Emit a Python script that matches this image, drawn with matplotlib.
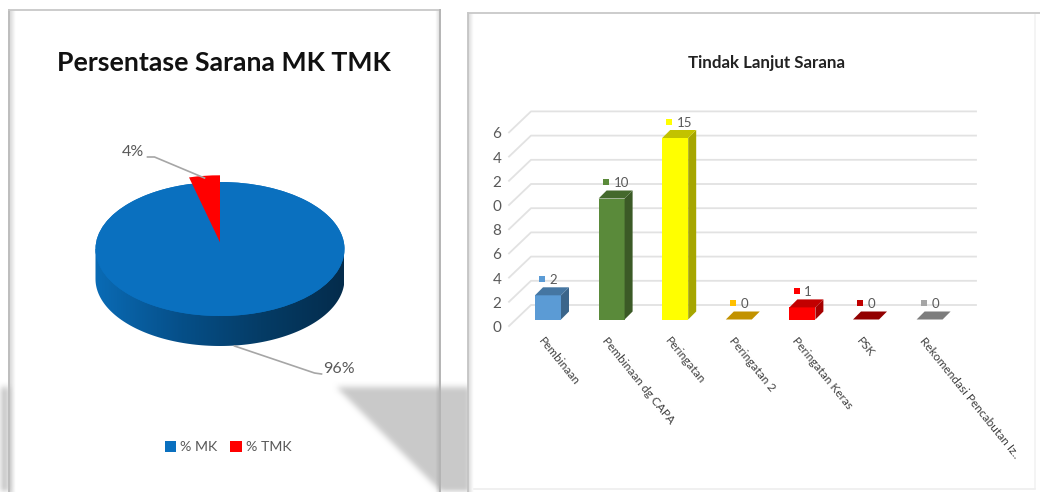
"""Persentase Sarana MK TMK and Tindak Lanjut Sarana"""
import numpy as np
import matplotlib.pyplot as plt
from matplotlib.colors import to_rgb, LinearSegmentedColormap
from matplotlib.patches import Ellipse, PathPatch, Polygon, Rectangle
from matplotlib.path import Path

W, H = 1040, 492

pie_title = "Persentase Sarana MK TMK"
pie_labels = ["% MK", "% TMK"]
pie_values = [96, 4]
pie_texts = ["96%", "4%"]
pie_colors = ["#0a70bf", "#ff0000"]

bar_title = "Tindak Lanjut Sarana"
categories = ["Pembinaan", "Pembinaan dg CAPA", "Peringatan", "Peringatan 2",
              "Peringatan Keras", "PSK", "Rekomendasi Pencabutan Iz.."]
bar_values = [2, 10, 15, 0, 1, 0, 0]
bar_colors = ["#5b9bd5", "#5a8a3a", "#ffff00", "#ffc000", "#ff0000", "#c00000", "#a5a5a5"]
grid_values = [0, 2, 4, 6, 8, 10, 12, 14, 16]
tick_labels = ["0", "2", "4", "6", "8", "0", "2", "4", "6"]

plt.rcParams['font.family'] = ['Lato', 'DejaVu Sans']
GREY = "#595959"


def px_axes(fig, left, top, right, bottom):
    """Axes placed by pixel edges, y measured from the top"""
    return fig.add_axes([left / W, 1 - bottom / H, (right - left) / W, (bottom - top) / H])


def shade(color, factor):
    return tuple(c * factor for c in to_rgb(color))


def soft_shadow():
    """Grey page strips and the triangle cast on the left card, blurred"""
    yy, xx = np.mgrid[0:H, 0:W]
    mask = (yy > 386) & (xx < 9)
    mask |= (yy > 386) & (xx > 335) & (xx < 470) & (yy - 386 < xx - 335)
    soft = mask.astype(float)
    kernel = np.ones(7) / 7
    for _ in range(2):
        soft = np.apply_along_axis(lambda r: np.convolve(r, kernel, mode='same'), 0, soft)
        soft = np.apply_along_axis(lambda r: np.convolve(r, kernel, mode='same'), 1, soft)
    rgba = np.ones((H, W, 4)) * 0.79
    rgba[..., 3] = soft
    return rgba


def inner_band(ax, x0, x1, y0, y1, reverse=False):
    """Soft grey fade just inside a card edge"""
    ramp = np.linspace(0.28, 0, 8).reshape(1, -1)
    if reverse:
        ramp = ramp[:, ::-1]
    rgba = np.zeros((1, 8, 4))
    rgba[..., :3] = 0.5
    rgba[..., 3] = ramp
    ax.imshow(rgba, extent=(x0, x1, y1, y0), aspect='auto', zorder=5, interpolation='bilinear')


def background(fig):
    """Cards, grey page behind them and the cast shadow"""
    ax = fig.add_axes([0, 0, 1, 1], zorder=0)
    ax.axis('off')
    ax.imshow(soft_shadow(), extent=(0, W, H, 0), aspect='auto', zorder=3)
    # right card hides the shadow past its edge
    ax.add_patch(Rectangle((468, 12.5), 600, 500, fc='white', ec='none', zorder=4))
    inner_band(ax, 9.5, 15, 10, H)
    inner_band(ax, 435, 440, 10, H, reverse=True)
    inner_band(ax, 468, 474, 13, H)
    ax.plot([9, 9], [10, H], color='#bdbdbd', lw=1.4, zorder=6)
    ax.plot([9, 440], [10, 10], color='#c8c8c8', lw=1.3, zorder=6)
    ax.plot([440, 440], [10, H], color='#b4b4b4', lw=1.4, zorder=6)
    ax.plot([468, 468], [13, H], color='#c4c4c4', lw=1.3, zorder=6)
    ax.plot([468, W], [12.5, 12.5], color='#c8c8c8', lw=1.3, zorder=6)
    ax.plot([1035, 1035], [15, 488], color='#f2f2f2', lw=1.2, zorder=6)
    ax.plot([474, 1035], [489, 489], color='#eeeeee', lw=1.2, zorder=6)
    ax.set_xlim(0, W)
    ax.set_ylim(H, 0)
    ax.text(224, 63, pie_title, ha='center', va='center', fontsize=19.2,
            fontweight='bold', color='#111111', zorder=7)
    ax.text(767, 63, bar_title, ha='center', va='center', fontsize=12.2,
            fontweight='bold', color='#222222', zorder=7)


def draw_pie(fig):
    """Flattened pie with a shaded rim, 125 x 67 px"""
    ax = px_axes(fig, 60, 130, 380, 400)
    ax.patch.set_alpha(0)
    rx, ry = 124.5, 67
    depth = 30 / ry
    # rim with a left to right gradient
    t = np.linspace(np.pi, 2 * np.pi, 120)
    verts = list(zip(np.cos(t), np.sin(t) - depth)) + [(1, 0), (-1, 0), (-1, -depth)]
    rim = PathPatch(Path(verts), fc='none', ec='none')
    ax.add_patch(rim)
    shadecmap = LinearSegmentedColormap.from_list("rim", ["#0a6bb5", "#06508a", "#053c66", "#042c4c"])
    img = ax.imshow(np.linspace(0, 1, 200).reshape(1, -1), cmap=shadecmap, aspect='auto',
                    extent=(-1, 1, -1 - depth, 0), zorder=1)
    img.set_clip_path(rim)
    ax.add_patch(Ellipse((0, 0), 2, 2, fc=pie_colors[0], ec='none', zorder=1.5))
    wedges, _ = ax.pie(pie_values, colors=pie_colors, startangle=90, counterclock=False,
                       radius=1, wedgeprops={'zorder': 2, 'lw': 0})
    ax.set_aspect('auto')
    ax.set_xlim(-160 / rx, 160 / rx)
    ax.set_ylim((249 - 400) / ry, (249 - 130) / ry)
    # red slice lifted straight up
    wedges[1].set_center((0, 0.1))
    wedges[1].set_zorder(3)

    def to_x(px):
        return (px - 220.5) / rx

    def to_y(py):
        return (249 - py) / ry

    line = '#a6a6a6'
    ax.plot([to_x(p) for p in (235, 315, 322)], [to_y(p) for p in (346, 373, 374)], color=line, lw=1.2, zorder=4)
    ax.plot([to_x(p) for p in (148, 155, 205)], [to_y(p) for p in (157, 157, 178)], color=line, lw=1.2, zorder=4)
    ax.text(to_x(339), to_y(369), pie_texts[0], ha='center', va='center', fontsize=11.5, color=GREY)
    ax.text(to_x(133), to_y(152), pie_texts[1], ha='center', va='center', fontsize=11.5, color=GREY)
    ax.legend(wedges, pie_labels, loc='center', bbox_to_anchor=(0.5 + 8 / 320, 1 - (447 - 130) / 270),
              ncol=2, frameon=False, fontsize=10.2, labelcolor=GREY, handlelength=0.8, handleheight=0.8,
              handletextpad=0.3, columnspacing=0.9, borderpad=0, bbox_transform=ax.transAxes)


def draw_bars(fig):
    """Pseudo 3D columns on a bar axes, 63.6 px per category, 12.1 px per unit"""
    unit_x, unit_y = 63.6, 12.1
    left, right, top, bottom = 470, 1035, 80, 440
    ax = px_axes(fig, left, top, right, bottom)
    ax.patch.set_alpha(0)
    ax.set_xlim((left - 548) / unit_x, (right - 548) / unit_x)
    ax.set_ylim((319.5 - bottom) / unit_y, (319.5 - top) / unit_y)
    ax.axis('off')

    # walls
    front_x, back_x, back_end = (509 - 548) / unit_x, (531 - 548) / unit_x, (976 - 548) / unit_x
    front_y, back_y = -6.5 / unit_y, 14.5 / unit_y
    for v in grid_values:
        ax.plot([front_x, back_x, back_end], [v + front_y, v + back_y, v + back_y],
                color='#e2e2e2', lw=1.3, zorder=1)
    for v, lab in zip(grid_values, tick_labels):
        ax.text((497 - 548) / unit_x, v + front_y - 2 / unit_y, lab, ha='center', va='center',
                fontsize=11, color=GREY)

    width = 26 / unit_x
    dx, dy = 8 / unit_x, 8 / unit_y
    xs = np.arange(len(categories))
    for x, v, c in zip(xs, bar_values, bar_colors):
        x0, x1 = x - width / 2, x + width / 2
        ax.bar(x, v, width=width, color=c, zorder=3)
        ax.add_patch(Polygon([(x1, 0), (x1 + dx, dy), (x1 + dx, v + dy), (x1, v)], fc=shade(c, 0.65), ec='none', zorder=3))
        ax.add_patch(Polygon([(x0, v), (x1, v), (x1 + dx, v + dy), (x0 + dx, v + dy)], fc=shade(c, 0.76), ec='none', zorder=3))
        ax.plot([x - 0.09], [v + 1.35], 's', color=c, ms=5, mew=0, zorder=4)
        ax.text(x - 0.09 + 0.12, v + 1.25, str(v), ha='left', va='center', fontsize=9.5, color=GREY, zorder=4)
    for x, lab in zip(xs, categories):
        ax.text(x - 0.12, -1.6, lab, rotation=-51, rotation_mode='anchor', ha='left', va='center',
                fontsize=8.6, color='#404040')


def main():
    """Draw both cards"""
    fig = plt.figure(figsize=(W / 100, H / 100), dpi=100, facecolor='white')
    background(fig)
    draw_pie(fig)
    draw_bars(fig)
    fig.savefig('out.png', dpi=100)


main()
